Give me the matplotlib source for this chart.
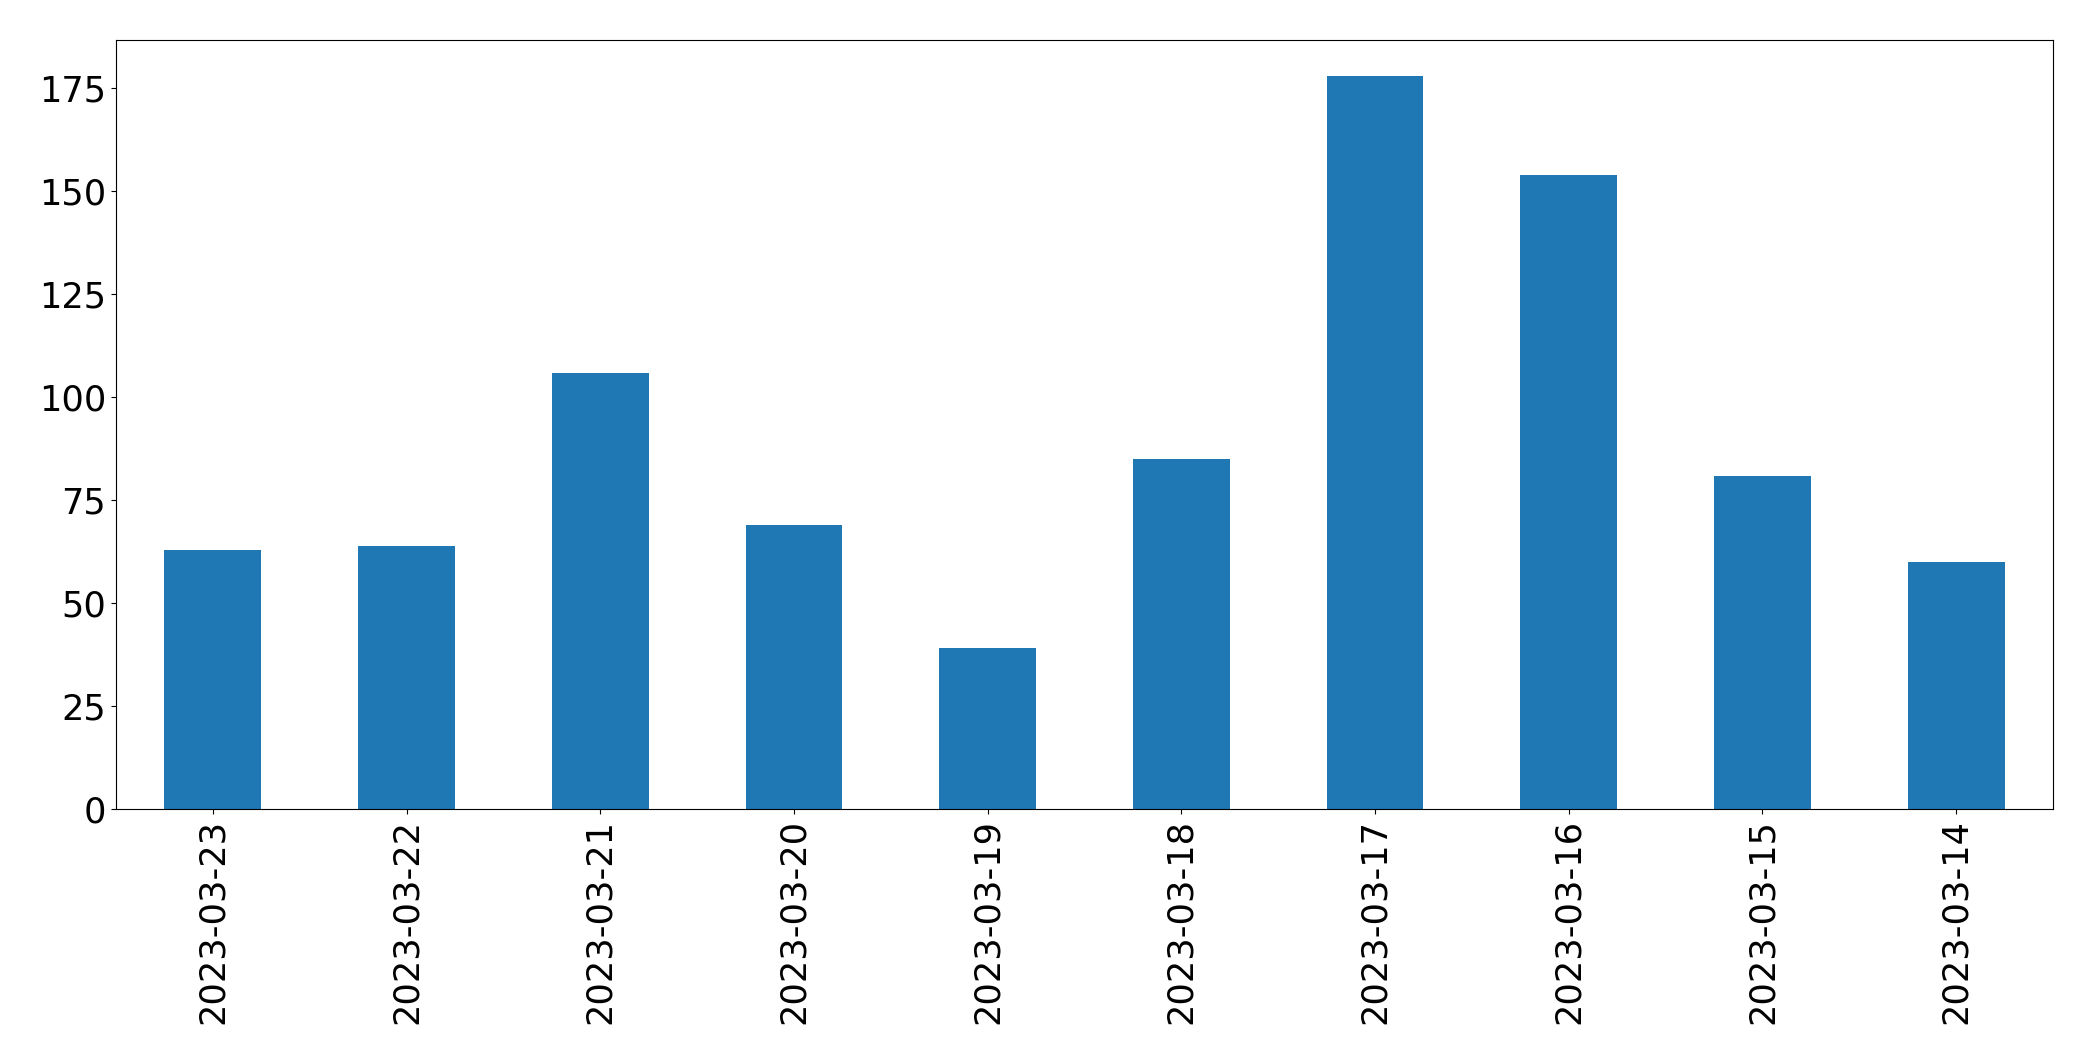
import matplotlib
matplotlib.use("Agg")
import matplotlib.pyplot as plt
import numpy as np

dates = ["2023-03-23", "2023-03-22", "2023-03-21", "2023-03-20", "2023-03-19",
         "2023-03-18", "2023-03-17", "2023-03-16", "2023-03-15", "2023-03-14"]
counts = [63, 64, 106, 69, 39, 85, 178, 154, 81, 60]

fig = plt.figure(figsize=(20.93, 10.61), dpi=100)
ax = fig.add_axes([116/2093, 1 - 809/1061, (2053-116)/2093, (809-39.5)/1061])
x = np.arange(len(dates))
ax.bar(x, counts, width=0.5, color="#1f77b4")
ax.set_xlim(-0.5, len(dates) - 0.5)
ax.set_xticks(x)
ax.set_xticklabels(dates, rotation=90)
ax.tick_params(labelsize=25.3)
fig.savefig("out.png", dpi=100)
